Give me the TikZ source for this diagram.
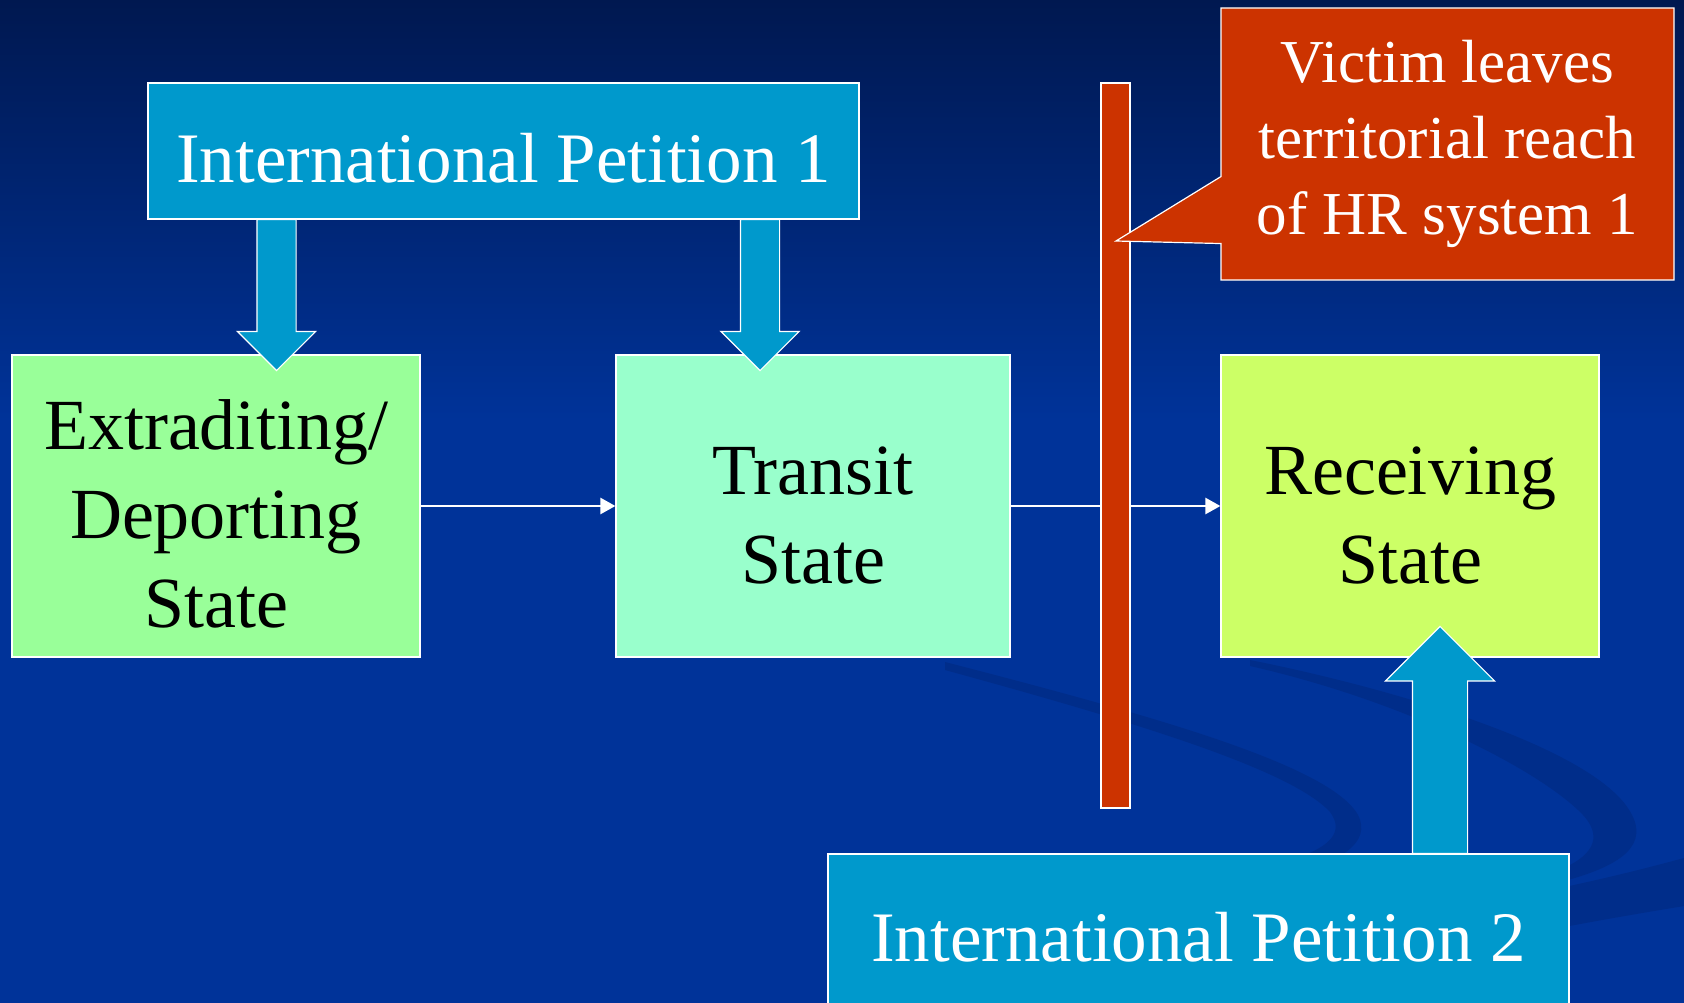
\documentclass[tikz,border=0pt]{standalone}
\usepackage{fontspec}
\setmainfont{Liberation Serif}
\usetikzlibrary{arrows.meta, shapes.arrows, shapes.callouts}

\definecolor{bgtop}{RGB}{0,24,80}
\definecolor{bgblue}{RGB}{0,51,153}
\definecolor{swoosh}{RGB}{0,45,138}
\definecolor{petition}{RGB}{0,153,204}
\definecolor{extgreen}{RGB}{153,255,153}
\definecolor{transitgreen}{RGB}{153,255,204}
\definecolor{receivegreen}{RGB}{204,255,102}
\definecolor{barred}{RGB}{204,51,0}

\newcommand\toppad{\rule{0pt}{66pt}}

\tikzset{
  box/.style={rectangle, draw=white, line width=1.2pt, inner sep=0pt, align=center},
  petbox/.style={box, fill=petition, text=white, font=\fontsize{71}{89}\selectfont, text height=64pt, text depth=0pt},
  statebox/.style={box, text=black, font=\fontsize{72}{89}\selectfont},
  blockarrow/.style={single arrow, draw=white, line width=1.2pt, fill=petition, inner xsep=0pt,
                     inner ysep=19pt, single arrow tip angle=90, anchor=tail, single arrow head extend=19.5pt},
  flow/.style={draw=white, line width=2.5pt, -{Triangle[length=15pt,width=16pt]}},
}

\begin{document}
\begin{tikzpicture}[x=1pt, y=-1pt]
\useasboundingbox (0,0) rectangle (1684,1003);
\clip (0,0) rectangle (1684,1003);

% background
\fill[bgblue] (0,0) rectangle (1684,1003);
\shade[top color=bgtop, bottom color=bgblue] (0,0) rectangle (1684,420);
\fill[swoosh] (945,662) .. controls (1150,715) and (1330,765) .. (1358,815)
   .. controls (1372,842) and (1340,862) .. (1296,872) -- (1290,860)
   .. controls (1330,848) and (1345,832) .. (1330,812)
   .. controls (1290,768) and (1120,718) .. (945,670) -- cycle;
\fill[swoosh] (1250,660) .. controls (1400,690) and (1600,750) .. (1632,815)
   .. controls (1650,850) and (1610,868) .. (1568,880) -- (1568,866)
   .. controls (1600,850) and (1600,830) .. (1578,810)
   .. controls (1530,765) and (1400,700) .. (1250,666) -- cycle;
\fill[swoosh] (1500,900) .. controls (1580,885) and (1640,870) .. (1684,858)
   -- (1684,906) .. controls (1630,915) and (1570,925) .. (1500,940) -- cycle;

% states
\node[statebox, fill=extgreen, minimum width=408, minimum height=302] (ext) at (216,506) {\toppad Extraditing/\\Deporting\\State};
\node[statebox, fill=transitgreen, minimum width=394, minimum height=302] (trn) at (813,506) {\toppad Transit\\State};
\node[statebox, fill=receivegreen, minimum width=378, minimum height=302] (rcv) at (1410,506) {\toppad Receiving\\State};

\draw[flow] (ext) -- (trn);
\draw[flow] (trn) -- (rcv);

% territorial limit
\node[rectangle, draw=white, line width=1.2pt, fill=barred, minimum width=29, minimum height=725] (bar) at (1115.5,445.5) {};
\node[rectangle callout, draw=white, line width=1.2pt, fill=barred, text=white, align=center, inner sep=0pt,
      font=\fontsize{61}{76}\selectfont, minimum width=453, minimum height=272,
      callout absolute pointer={(1116,241)}, callout pointer width=67] (leave) at (1447.5,144)
      {Victim leaves\\territorial reach\\of HR system 1};

% petitions
\node[petbox, minimum width=711, minimum height=136] (ip1) at (503.5,151) {International Petition 1};
\node[petbox, minimum width=741, minimum height=150] (ip2) at (1198.5,929) {International Petition 2};

\node[blockarrow, rotate=-90, minimum height=151] (dn1) at (276.5,219) {};
\node[blockarrow, rotate=-90, minimum height=151] (dn2) at (760,219) {};
\node[blockarrow, rotate=90, minimum height=227, inner ysep=27pt, single arrow head extend=27pt] (up2) at (1440,854) {};
\end{tikzpicture}
\end{document}
